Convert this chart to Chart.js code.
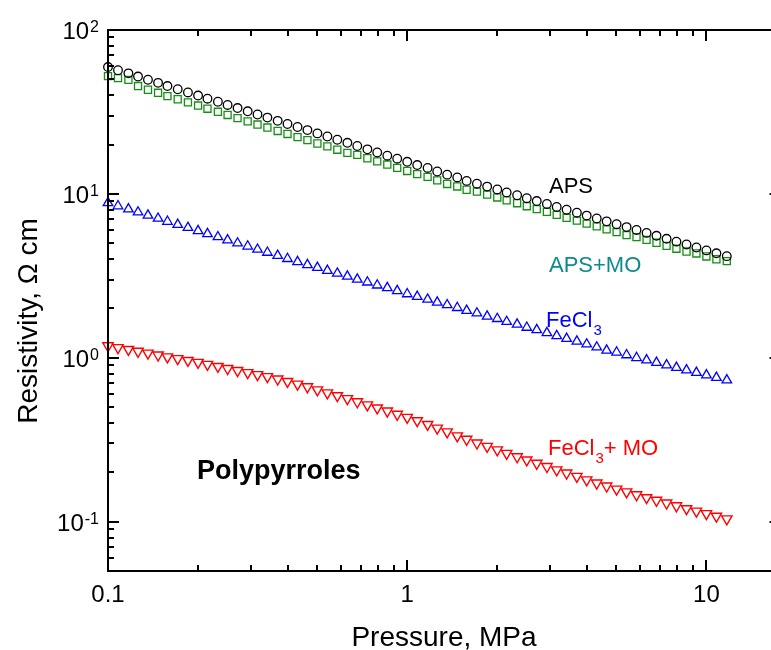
<!DOCTYPE html>
<html>
<head>
<meta charset="utf-8">
<script src="https://cdn.jsdelivr.net/npm/chart.js@4/dist/chart.umd.min.js"></script>
<style>
html,body{margin:0;padding:0;background:#fff;overflow:hidden;width:771px;height:650px;}
canvas{display:block;}
</style>
</head>
<body>
<canvas id="c" width="788" height="650"></canvas>
<script>
// ---- data ----
const pressure = [0.100,0.108,0.117,0.126,0.136,0.147,0.158,0.171,0.185,0.200,0.215,0.233,0.251,0.271,0.293,0.316,0.341,0.369,0.398,0.430,0.464,0.501,0.541,0.584,0.631,0.681,0.736,0.794,0.858,0.926,1.00,1.08,1.17,1.26,1.36,1.47,1.58,1.71,1.85,2.00,2.15,2.33,2.51,2.71,2.93,3.16,3.41,3.69,3.98,4.30,4.64,5.01,5.41,5.84,6.31,6.81,7.36,7.94,8.58,9.26,10.0,10.8,11.7];
const resAPS = [59.4,56.8,54.4,52.0,49.7,47.6,45.5,43.5,41.6,39.8,38.1,36.5,34.9,33.4,31.9,30.5,29.2,27.9,26.7,25.6,24.5,23.4,22.4,21.4,20.5,19.6,18.7,17.9,17.1,16.4,15.7,15.0,14.4,13.7,13.1,12.6,12.0,11.54,11.08,10.64,10.21,9.81,9.41,9.04,8.68,8.33,8.00,7.68,7.37,7.08,6.80,6.53,6.27,6.02,5.78,5.55,5.32,5.11,4.91,4.71,4.52,4.34,4.17];
const resAPSMO = [52.3,50.9,49.6,45.5,43.2,41.4,39.5,37.8,36.2,34.6,33.1,31.7,30.3,29.0,27.7,26.5,25.4,24.2,23.2,22.2,21.3,20.3,19.5,18.6,17.8,17.3,16.5,15.8,15.1,14.4,13.8,13.2,12.7,12.1,11.5,11.1,10.6,10.32,9.91,9.51,9.13,8.77,8.41,8.08,7.76,7.45,7.15,6.87,6.59,6.33,6.08,5.84,5.61,5.45,5.24,5.03,4.82,4.63,4.45,4.33,4.15,3.99,3.89];
const resFeCl3 = [8.81,8.43,8.07,7.73,7.40,7.08,6.78,6.49,6.22,5.95,5.70,5.46,5.22,5.00,4.79,4.58,4.39,4.20,4.02,3.85,3.69,3.55,3.40,3.27,3.14,3.01,2.89,2.77,2.67,2.56,2.45,2.36,2.27,2.18,2.10,2.02,1.94,1.87,1.79,1.73,1.66,1.60,1.53,1.48,1.42,1.36,1.31,1.26,1.21,1.16,1.11,1.08,1.04,1.00,0.968,0.935,0.902,0.871,0.841,0.812,0.784,0.757,0.731];
const resFeCl3MO = [1.183,1.153,1.124,1.095,1.067,1.040,1.013,0.988,0.963,0.938,0.911,0.885,0.860,0.836,0.812,0.789,0.767,0.742,0.717,0.691,0.665,0.637,0.611,0.587,0.563,0.539,0.516,0.494,0.473,0.452,0.433,0.413,0.392,0.372,0.353,0.334,0.318,0.302,0.288,0.274,0.261,0.249,0.238,0.227,0.217,0.207,0.198,0.189,0.180,0.172,0.165,0.158,0.152,0.146,0.140,0.135,0.130,0.125,0.120,0.116,0.112,0.108,0.104];

// ---- ticks ----
const xMajorTicks = [0.1, 1, 10];
const xTickLabels = ['0.1', '1', '10'];
const xMinorTicks = [0.2,0.3,0.4,0.5,0.6,0.7,0.8,0.9,2,3,4,5,6,7,8,9];
const yMajorTicks = [0.1, 1, 10, 100];
const yTickExponents = ['-1', '0', '1', '2'];
const yMinorTicks = [0.06,0.07,0.08,0.09,0.2,0.3,0.4,0.5,0.6,0.7,0.8,0.9,2,3,4,5,6,7,8,9,20,30,40,50,60,70,80,90];

const FONT = '"Liberation Sans", Arial, Helvetica, sans-serif';
const toXY = ys => pressure.map((p, i) => ({x: p, y: ys[i]}));

const framePlugin = {
  id: 'frame',
  afterDraw(chart) {
    const ctx = chart.ctx;
    const {left, right, top, bottom} = chart.chartArea;
    const xs = chart.scales.x, ys = chart.scales.y;
    ctx.save();
    ctx.strokeStyle = '#000';
    ctx.lineWidth = 2;
    ctx.lineCap = 'butt';
    ctx.strokeRect(left, top, right - left, bottom - top);
    const seg = (x1, y1, x2, y2) => { ctx.beginPath(); ctx.moveTo(x1, y1); ctx.lineTo(x2, y2); ctx.stroke(); };
    const MAJ = 11, MIN = 6;
    xMajorTicks.forEach(v => { const px = Math.round(xs.getPixelForValue(v)); seg(px, bottom, px, bottom - MAJ); seg(px, top, px, top + MAJ); });
    xMinorTicks.forEach(v => { const px = Math.round(xs.getPixelForValue(v)); seg(px, bottom, px, bottom - MIN); seg(px, top, px, top + MIN); });
    yMajorTicks.forEach(v => { const py = Math.round(ys.getPixelForValue(v)); seg(left, py, left + MAJ, py); seg(right, py, right - MAJ, py); });
    yMinorTicks.forEach(v => { const py = Math.round(ys.getPixelForValue(v)); seg(left, py, left + MIN, py); seg(right, py, right - MIN, py); });

    ctx.fillStyle = '#000';
    // x tick labels
    ctx.font = '24px ' + FONT;
    ctx.textAlign = 'center';
    ctx.textBaseline = 'alphabetic';
    xMajorTicks.forEach((v, i) => ctx.fillText(xTickLabels[i], xs.getPixelForValue(v), 602));
    // y tick labels 10^n
    ctx.textAlign = 'left';
    yMajorTicks.forEach((v, i) => {
      const py = ys.getPixelForValue(v);
      ctx.font = '24px ' + FONT;
      const w10 = ctx.measureText('10').width;
      ctx.font = '16px ' + FONT;
      const wsup = ctx.measureText(yTickExponents[i]).width;
      const x0 = 98 - w10 - wsup;
      ctx.font = '24px ' + FONT;
      ctx.fillText('10', x0, py + 9);
      ctx.font = '16px ' + FONT;
      ctx.fillText(yTickExponents[i], x0 + w10 + 1, py + 2);
    });
    // axis titles
    ctx.font = '28px ' + FONT;
    ctx.textAlign = 'center';
    ctx.fillText('Pressure, MPa', 444, 646);
    ctx.save();
    ctx.translate(37, 321);
    ctx.rotate(-Math.PI / 2);
    ctx.fillText('Resistivity, \u03A9 cm', 0, 0);
    ctx.restore();

    // series labels
    ctx.textAlign = 'left';
    ctx.font = '22px ' + FONT;
    ctx.fillStyle = '#000';
    ctx.fillText('APS', 549, 193);
    ctx.fillStyle = '#0b8b8b';
    ctx.fillText('APS+MO', 549, 272);
    // FeCl3
    ctx.fillStyle = '#0000ff';
    ctx.font = '22px ' + FONT;
    ctx.fillText('FeCl', 546, 327);
    let w = ctx.measureText('FeCl').width;
    ctx.font = '15px ' + FONT;
    ctx.fillText('3', 546 + w + 1, 335);
    // FeCl3 + MO
    ctx.fillStyle = '#ff0000';
    ctx.font = '22px ' + FONT;
    ctx.fillText('FeCl', 548, 455);
    w = ctx.measureText('FeCl').width;
    ctx.font = '15px ' + FONT;
    ctx.fillText('3', 548 + w + 1, 463);
    const w3 = ctx.measureText('3').width;
    ctx.font = '22px ' + FONT;
    ctx.fillText('+ MO', 548 + w + 1 + w3, 455);
    // annotation
    ctx.fillStyle = '#000';
    ctx.font = 'bold 27px ' + FONT;
    ctx.fillText('Polypyrroles', 197, 479);
    ctx.restore();
  }
};

new Chart(document.getElementById('c'), {
  type: 'line',
  data: {
    datasets: [
      {label: 'APS', data: toXY(resAPS), showLine: false, pointStyle: 'circle', pointRadius: 4.3, borderColor: '#000', backgroundColor: 'rgba(255,255,255,0)', pointBorderWidth: 1.3, clip: false},
      {label: 'APS+MO', data: toXY(resAPSMO), showLine: false, pointStyle: 'rect', pointRadius: 5, borderColor: '#138f13', backgroundColor: 'rgba(255,255,255,0)', pointBorderWidth: 1.3, clip: false},
      {label: 'FeCl3', data: toXY(resFeCl3), showLine: false, pointStyle: 'triangle', pointRadius: 5.5, borderColor: '#0000ff', backgroundColor: 'rgba(255,255,255,0)', pointBorderWidth: 1.3, clip: false},
      {label: 'FeCl3+MO', data: toXY(resFeCl3MO), showLine: false, pointStyle: 'triangle', pointRotation: 180, pointRadius: 6, borderColor: '#ff0000', backgroundColor: 'rgba(255,255,255,0)', pointBorderWidth: 1.4, clip: false}
    ]
  },
  options: {
    responsive: false,
    animation: false,
    devicePixelRatio: 1,
    layout: {padding: {left: 108, top: 30, right: 4, bottom: 79}},
    plugins: {legend: {display: false}, tooltip: {enabled: false}},
    scales: {
      x: {type: 'logarithmic', min: 0.1, max: 17.7, ticks: {display: false}, grid: {display: false, drawTicks: false}, border: {display: false}},
      y: {type: 'logarithmic', min: 0.05, max: 100, ticks: {display: false}, grid: {display: false, drawTicks: false}, border: {display: false}}
    }
  },
  plugins: [framePlugin]
});
</script>
</body>
</html>
